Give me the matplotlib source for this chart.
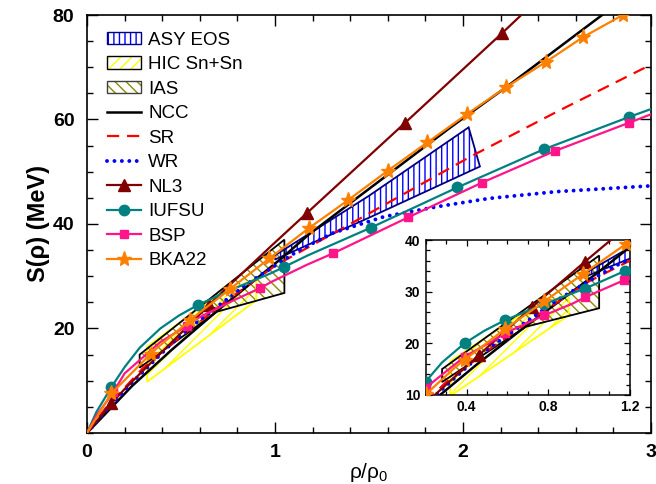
import numpy as np
import matplotlib
matplotlib.use('Agg')
import matplotlib.pyplot as plt
from matplotlib.patches import Polygon, Patch
from matplotlib.lines import Line2D
from matplotlib.ticker import MultipleLocator, FixedLocator, FormatStrFormatter

plt.rcParams['font.family'] = 'Liberation Sans'
plt.rcParams['mathtext.fontset'] = 'custom'
plt.rcParams['mathtext.rm'] = 'Liberation Sans'
plt.rcParams['mathtext.bf'] = 'Liberation Sans:bold'
plt.rcParams['hatch.linewidth'] = 1.0

# ---- curves (x = rho/rho0, y = S in MeV) ----
ncc_x = [0, 0.16, 0.24, 0.45, 0.69, 1.04, 1.18, 1.40, 1.93, 2.23, 2.74]
ncc_y = [0, 6.0, 9.0, 15.9, 23.3, 33.6, 38.0, 44.0, 58.4, 66.2, 80.0]

sr_x = [0, 0.1, 0.3, 0.5, 0.75, 1.0, 1.4, 2.04, 2.5, 3.0]
sr_y = [0, 4.8, 12.5, 18.5, 25.5, 32.0, 40.0, 52.9, 61.5, 70.5]

wr_x = [0, 0.1, 0.25, 0.48, 0.65, 0.85, 1.05, 1.13, 1.31, 1.58, 1.86, 2.14, 2.5, 3.0]
wr_y = [0, 4.2, 10.0, 18.2, 23.0, 28.5, 33.2, 35.0, 38.3, 41.4, 43.3, 44.9, 46.2, 47.3]

nl3_x = [0, 0.13, 0.2, 0.3, 0.46, 0.65, 0.72, 0.98, 1.17, 1.69, 2.21, 2.31]
nl3_y = [0, 5.7, 8.4, 12.0, 17.7, 24.5, 27.0, 35.8, 42.1, 59.3, 76.6, 80.0]

iufsu_x = [0, 0.05, 0.13, 0.2, 0.28, 0.39, 0.49, 0.59, 0.78, 0.98, 1.05, 1.175, 1.51, 1.97, 2.43, 2.885, 3.0]
iufsu_y = [0, 4.0, 8.8, 12.6, 16.3, 20.0, 22.5, 24.5, 27.6, 30.6, 31.8, 34.0, 39.3, 47.0, 54.3, 60.5, 62.0]

bsp_x = [0, 0.05, 0.14, 0.2, 0.39, 0.53, 0.59, 0.78, 0.92, 0.98, 1.17, 1.31, 1.71, 2.10, 2.49, 2.885, 3.0]
bsp_y = [0, 3.3, 7.8, 11.4, 17.4, 20.5, 22.0, 25.4, 27.7, 28.9, 32.2, 34.4, 41.3, 47.9, 54.0, 59.4, 61.0]

bka_x = [0, 0.13, 0.2, 0.34, 0.39, 0.55, 0.59, 0.76, 0.78, 0.97, 1.18, 1.39, 1.60, 1.81,
         2.02, 2.23, 2.44, 2.64, 2.85]
bka_y = [0, 7.6, 10.1, 15.2, 16.8, 21.6, 22.8, 27.5, 28.1, 33.4, 39.2, 44.6, 50.2, 55.6,
         61.0, 66.2, 71.0, 75.8, 80.0]

# marker positions (main panel / inset)
nl3_mk = [0.13, 0.65, 1.17, 1.69, 2.21]
nl3_mk_in = [0.46, 0.72, 0.98]
iufsu_mk = [0.13, 0.59, 1.05, 1.51, 1.97, 2.43, 2.885]
iufsu_mk_in = [0.2, 0.39, 0.59, 0.78, 0.98, 1.175]
bsp_mk = [0.14, 0.53, 0.92, 1.31, 1.71, 2.10, 2.49, 2.885]
bsp_mk_in = [0.2, 0.39, 0.59, 0.78, 0.98, 1.17]
bka_mk = [0.13, 0.34, 0.55, 0.76, 0.97, 1.18, 1.39, 1.60, 1.81, 2.02, 2.23, 2.44, 2.64, 2.85]
bka_mk_in = [0.2, 0.39, 0.59, 0.78, 0.97, 1.18]

# ---- constraint regions (polygon vertices) ----
asy_x = [1.0, 1.5, 2.03, 2.09, 1.5, 1.0]
asy_y = [34.0, 45.4, 58.5, 51.0, 41.2, 33.2]

hic_x = [0.32, 0.32, 0.5, 0.7, 0.9, 0.9]
hic_y = [9.8, 16.5, 21.3, 26.4, 29.6, 25.4]

ias_x = [0.28, 0.28, 1.05, 1.05, 0.69]
ias_y = [12.5, 15.0, 37.0, 26.8, 23.2]

c_nl3 = '#800000'
c_iufsu = '#008080'
c_bsp = '#FF1489'
c_bka = '#FF8000'


def mask(x, mk):
    x = np.asarray(x)
    return list(np.isclose(x[:, None], np.asarray(mk)[None, :], atol=1e-3).any(axis=1))


def draw(ax, inset):
    # regions
    for xs, ys, hcol, ecol, hatch in [(hic_x, hic_y, 'yellow', 'yellow', '///'),
                                      (ias_x, ias_y, '#8B8B00', 'black', '\\\\\\'),
                                      (asy_x, asy_y, 'blue', '#000080', '|||')]:
        pts = np.column_stack([xs, ys])
        ax.add_patch(Polygon(pts, closed=True, facecolor='none', edgecolor=hcol,
                             linewidth=0, hatch=hatch, zorder=1))
        ax.add_patch(Polygon(pts, closed=True, fill=False, edgecolor=ecol,
                             linewidth=1.3, zorder=1.5))
    ax.plot(ncc_x, ncc_y, color='black', lw=1.8, zorder=3)
    ax.plot(sr_x, sr_y, color='red', lw=1.6, dashes=(5.5, 3.5), zorder=3)
    ax.plot(wr_x, wr_y, color='blue', lw=2.8, linestyle=(0, (0.01, 1.9)),
            dash_capstyle='round', zorder=3)
    sets = [(nl3_x, nl3_y, c_nl3, '^', 8, nl3_mk, nl3_mk_in),
            (iufsu_x, iufsu_y, c_iufsu, 'o', 7.5, iufsu_mk, iufsu_mk_in),
            (bsp_x, bsp_y, c_bsp, 's', 6, bsp_mk, bsp_mk_in),
            (bka_x, bka_y, c_bka, '*', 11, bka_mk, bka_mk_in)]
    for xs, ys, col, m, ms, mk, mk_in in sets:
        ax.plot(xs, ys, color=col, lw=1.6, marker=m, ms=ms, mec=col, mfc=col,
                markevery=mask(xs, mk_in if inset else mk), zorder=4)


fig = plt.figure(figsize=(6.56, 4.84), dpi=100)
ax = fig.add_axes([0.1326, 0.1054, 0.8598, 0.8636])
draw(ax, False)
ax.set_xlim(0, 3)
ax.set_ylim(0, 80)
ax.xaxis.set_major_locator(MultipleLocator(1))
ax.xaxis.set_minor_locator(MultipleLocator(0.2))
ax.yaxis.set_major_locator(FixedLocator([20, 40, 60, 80]))
ax.yaxis.set_minor_locator(MultipleLocator(5))
ax.tick_params(which='both', direction='in', top=True, right=True, width=1.0)
ax.tick_params(which='major', length=8, labelsize=14)
ax.tick_params(axis='x', which='major', pad=8)
ax.tick_params(axis='y', which='major', pad=9)
ax.tick_params(which='minor', length=4.5)
for lab in ax.get_xticklabels() + ax.get_yticklabels():
    lab.set_fontweight('bold')
for s in ax.spines.values():
    s.set_linewidth(1.2)
ax.set_xlabel('ρ/ρ$_\\mathregular{0}$', fontsize=15, labelpad=0)
ax.set_ylabel('S(ρ) (MeV)', fontsize=17, fontweight='bold', labelpad=2)

# legend
hic_h = (Patch(facecolor='none', edgecolor='yellow', hatch='///', lw=0),
         Patch(fill=False, edgecolor='black', lw=1.0))
ias_h = (Patch(facecolor='none', edgecolor='#8B8B00', hatch='\\\\\\', lw=0),
         Patch(fill=False, edgecolor='#404040', lw=1.0))
asy_h = (Patch(facecolor='none', edgecolor='blue', hatch='|||', lw=0),
         Patch(fill=False, edgecolor='#000080', lw=1.0))
handles = [asy_h, hic_h, ias_h,
           Line2D([], [], color='black', lw=1.8),
           Line2D([], [], color='red', lw=1.6, dashes=(5.5, 3.5)),
           Line2D([], [], color='blue', lw=2.8, linestyle=(0, (0.01, 1.9)), dash_capstyle='round'),
           Line2D([], [], color=c_nl3, lw=1.6, marker='^', ms=8),
           Line2D([], [], color=c_iufsu, lw=1.6, marker='o', ms=7.5),
           Line2D([], [], color=c_bsp, lw=1.6, marker='s', ms=6),
           Line2D([], [], color=c_bka, lw=1.6, marker='*', ms=11)]
labels = ['ASY EOS', 'HIC Sn+Sn', 'IAS', 'NCC', 'SR', 'WR', 'NL3', 'IUFSU', 'BSP', 'BKA22']
ax.legend(handles, labels, loc='upper left', bbox_to_anchor=(0.035, 0.96), frameon=False,
          fontsize=13.5, borderpad=0, borderaxespad=0, handlelength=1.85,
          handleheight=0.65, handletextpad=0.37, labelspacing=0.4, numpoints=1)

# inset
axi = fig.add_axes([0.649, 0.184, 0.311, 0.320])
draw(axi, True)
axi.set_xlim(0.2, 1.2)
axi.set_ylim(10, 40)
axi.xaxis.set_major_locator(MultipleLocator(0.4))
axi.xaxis.set_minor_locator(MultipleLocator(0.1))
axi.yaxis.set_major_locator(MultipleLocator(10))
axi.yaxis.set_minor_locator(MultipleLocator(2))
axi.xaxis.set_major_formatter(FormatStrFormatter('%.1f'))
axi.tick_params(which='both', direction='in', top=True, right=True, width=0.9)
axi.tick_params(which='major', length=4.5, labelsize=10, pad=4)
axi.tick_params(which='minor', length=3)
for lab in axi.get_xticklabels() + axi.get_yticklabels():
    lab.set_fontweight('bold')
for s in axi.spines.values():
    s.set_linewidth(1.1)

fig.savefig('out.png', dpi=100)
